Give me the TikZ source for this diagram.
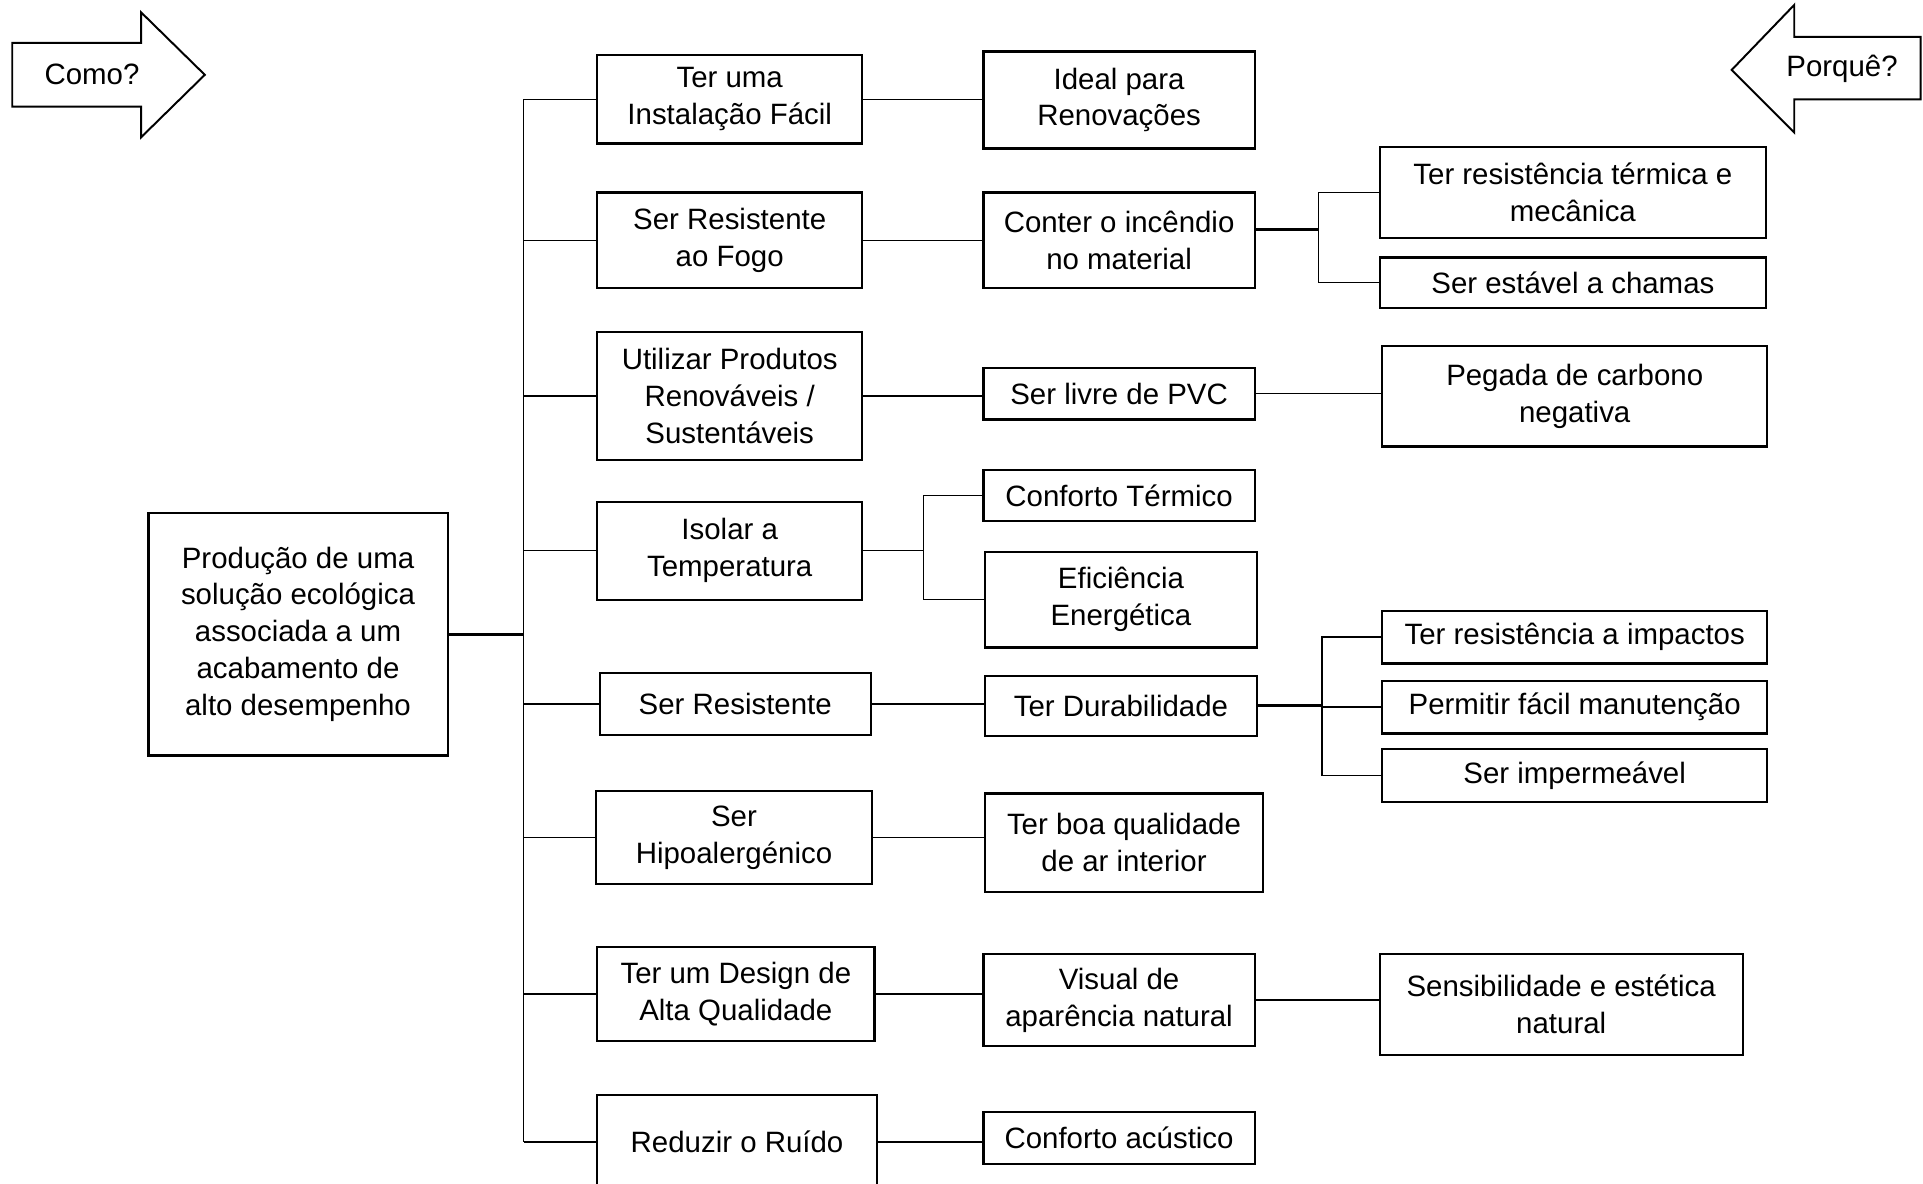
\documentclass[tikz,border=0pt]{standalone}
\usepackage{fontspec}
\setmainfont{Liberation Sans}
\usetikzlibrary{positioning}

\begin{document}
\begin{tikzpicture}[x=0.5pt,y=-0.5pt,
  caixa/.style 2 args={draw,line width=0.9pt,align=center,inner sep=0pt,minimum width=#1,minimum height=#2,font=\fontsize{12}{15}\selectfont},
  lig/.style={line width=0.6pt},
  grossa/.style={line width=1.2pt}]
\useasboundingbox (0,0) rectangle (1568,965);
\draw[line width=0.8pt] (10,35) -- (115,35) -- (115,10) -- (167,61) -- (115,112) -- (115,87) -- (10,87) -- cycle;
\node[font=\fontsize{12}{15}\selectfont] (como) at (75,61) {Como?};
\draw[line width=0.8pt] (1566,30) -- (1463,30) -- (1463,4) -- (1412,57) -- (1463,108) -- (1463,81) -- (1566,81) -- cycle;
\node[font=\fontsize{12}{15}\selectfont] (porque) at (1502,56) {Porquê?};
\node[caixa={122pt}{99pt}] (raiz) at (243,517) {Produção de uma\\solução ecológica\\associada a um\\acabamento de\\alto desempenho};
\node[caixa={108pt}{36pt}] (inst) at (595,81) {Ter uma\\Instalação Fácil};
\node[caixa={108pt}{39pt}] (fogo) at (595,196) {Ser Resistente\\ao Fogo};
\node[caixa={108pt}{52pt}] (renov) at (595,323) {Utilizar Produtos\\Renováveis /\\Sustentáveis};
\node[caixa={108pt}{40pt}] (isolar) at (595,449) {Isolar a\\Temperatura};
\node[caixa={110.5pt}{25pt}] (resist) at (599.5,574) {Ser Resistente};
\node[caixa={112.5pt}{38pt}] (hipo) at (598.5,683) {Ser\\Hipoalergénico};
\node[caixa={113pt}{38.5pt}] (design) at (600,810.5) {Ter um Design de\\Alta Qualidade};
\node[caixa={114pt}{38pt}] (ruido) at (601,931) {Reduzir o Ruído};
\node[caixa={110.5pt}{39.5pt}] (ideal) at (912.5,81.5) {Ideal para\\Renovações};
\node[caixa={110.5pt}{39pt}] (conter) at (912.5,196) {Conter o incêndio\\no material};
\node[caixa={110.5pt}{21pt}] (pvc) at (912.5,321) {Ser livre de PVC};
\node[caixa={110.5pt}{21pt}] (termico) at (912.5,404) {Conforto Térmico};
\node[caixa={111pt}{39pt}] (efic) at (914,489) {Eficiência\\Energética};
\node[caixa={111pt}{24.5pt}] (durab) at (914,575.5) {Ter Durabilidade};
\node[caixa={113.5pt}{40pt}] (ar) at (916.5,687) {Ter boa qualidade\\de ar interior};
\node[caixa={110.5pt}{37.5pt}] (visual) at (912.5,815.5) {Visual de\\aparência natural};
\node[caixa={110.5pt}{21pt}] (acust) at (912.5,928) {Conforto acústico};
\node[caixa={157.5pt}{37pt}] (termec) at (1282.5,157) {Ter resistência térmica e\\mecânica};
\node[caixa={157.5pt}{20.5pt}] (chamas) at (1282.5,230.5) {Ser estável a chamas};
\node[caixa={157pt}{41pt}] (carbono) at (1284,323) {Pegada de carbono\\negativa};
\node[caixa={157pt}{21.5pt}] (impacto) at (1284,519.5) {Ter resistência a impactos};
\node[caixa={157pt}{21.5pt}] (manut) at (1284,576.5) {Permitir fácil manutenção};
\node[caixa={157pt}{21.5pt}] (imperm) at (1284,632.5) {Ser impermeável};
\node[caixa={148pt}{41pt}] (sensib) at (1273,819) {Sensibilidade e estética\\natural};
\coordinate (tr) at (427,0);
\coordinate (j1) at (753,0);
\coordinate (j2) at (1075,187);
\coordinate (j3) at (1078,575);
\draw[grossa] (raiz.east) -- (raiz.east -| tr);
\draw[lig] (tr |- inst.west) -- (tr |- ruido.west);
\draw[lig] (tr |- inst.west) -- (inst.west);
\draw[lig] (tr |- fogo.west) -- (fogo.west);
\draw[lig] (tr |- renov.west) -- (renov.west);
\draw[lig] (tr |- isolar.west) -- (isolar.west);
\draw[lig] (tr |- resist.west) -- (resist.west);
\draw[lig] (tr |- hipo.west) -- (hipo.west);
\draw[lig] (tr |- design.west) -- (design.west);
\draw[lig] (tr |- ruido.west) -- (ruido.west);
\draw[lig] (inst.east) -- (inst.east -| ideal.west);
\draw[lig] (fogo.east) -- (fogo.east -| conter.west);
\draw[lig] (renov.east) -- (renov.east -| pvc.west);
\draw[lig] (resist.east) -- (resist.east -| durab.west);
\draw[lig] (hipo.east) -- (hipo.east -| ar.west);
\draw[lig] (design.east) -- (design.east -| visual.west);
\draw[lig] (ruido.east) -- (ruido.east -| acust.west);
\draw[lig] (pvc.east) -- (pvc.east -| carbono.west);
\draw[lig] (visual.east) -- (visual.east -| sensib.west);
\draw[lig] (isolar.east) -- (isolar.east -| j1);
\draw[lig] (termico.west) -| (j1 |- efic.west) -- (efic.west);
\draw[grossa] (conter.east |- j2) -- (j2);
\draw[lig] (termec.west) -| (j2 |- chamas.west) -- (chamas.west);
\draw[grossa] (durab.east) -- (durab.east -| j3);
\draw[lig] (impacto.west) -| (j3 |- imperm.west) -- (imperm.west);
\draw[lig] (j3 |- manut.west) -- (manut.west);
\end{tikzpicture}
\end{document}
